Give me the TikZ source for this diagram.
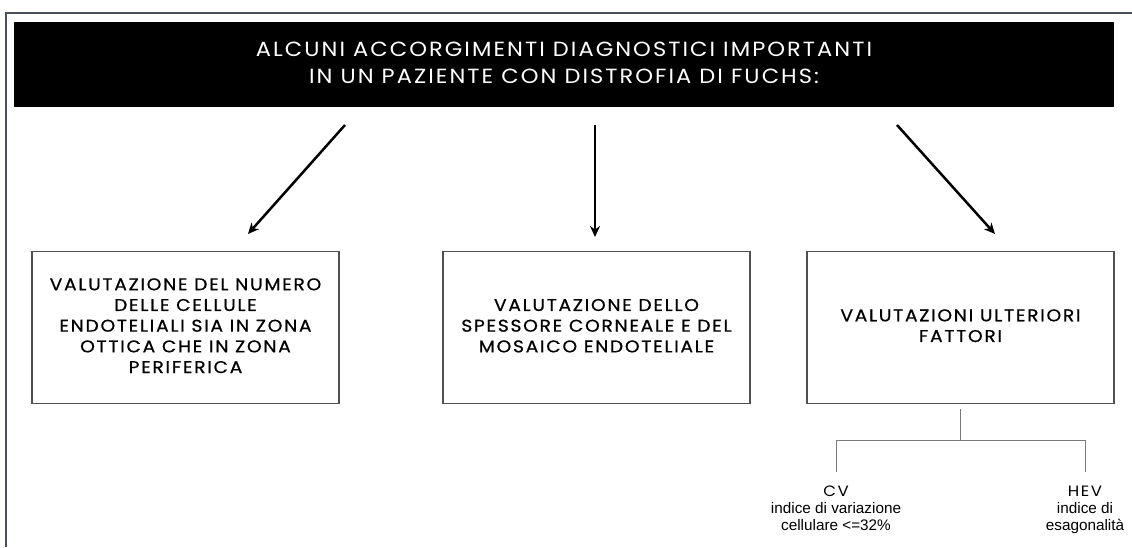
\documentclass[tikz,border=0pt]{standalone}
\usepackage{fontspec}
\usepackage{tikz}
\usepackage{xcolor}
\usetikzlibrary{shapes,arrows.meta}
\newfontfamily\headfont{Poppins}[FakeStretch=1.1, LetterSpace=10]
\newfontfamily\boxfont{Poppins}[FakeStretch=1.1, LetterSpace=10, FakeBold=0.7]
\newfontfamily\notefont{Liberation Sans}
\definecolor{framegray}{HTML}{4A5057}
\definecolor{boxgray}{HTML}{505050}
\definecolor{branchgray}{HTML}{7A7A7A}

\begin{document}
\begin{tikzpicture}[x=1pt,y=-1pt]
\tikzstyle{header} = [rectangle, fill=black, text=white, minimum width=1100pt, minimum height=85pt, inner sep=0pt]
\tikzstyle{esame} = [rectangle, draw=boxgray, line width=1.2pt, minimum width=307pt, minimum height=152pt, inner sep=0pt]
\tikzstyle{freccia} = [line width=2.5pt, -{Stealth[length=11pt,width=10pt]}]
\tikzstyle{ramo} = [draw=branchgray, line width=1pt]
\tikzstyle{indice} = [anchor=north, inner xsep=0pt, inner ysep=12pt]
\useasboundingbox (0,0) rectangle (1132,547);
% cornice
\draw[framegray, line width=2.5pt] (1132,13) -- (6,13) -- (6,547);
% titolo
\node[header] (titolo) at (564,64.5) {
	\headfont\fontsize{20.5}{26.5}\selectfont
	\begin{tabular}{c}
		ALCUNI ACCORGIMENTI DIAGNOSTICI IMPORTANTI \\
		IN UN PAZIENTE CON DISTROFIA DI FUCHS:
	\end{tabular}
};
% riquadri
\node[esame] (numero) at (185.5,327.5) {
	\boxfont\fontsize{17}{20.7}\selectfont
	\begin{tabular}{c}
		VALUTAZIONE DEL NUMERO \\
		DELLE CELLULE \\
		ENDOTELIALI SIA IN ZONA \\
		OTTICA CHE IN ZONA \\
		PERIFERICA
	\end{tabular}
};
\node[esame] (spessore) at (596.5,327.5) {
	\boxfont\fontsize{17}{20.7}\selectfont
	\begin{tabular}{c}
		VALUTAZIONE DELLO \\
		SPESSORE CORNEALE E DEL \\
		MOSAICO ENDOTELIALE
	\end{tabular}
};
\node[esame] (fattori) at (960.5,327.5) {
	\boxfont\fontsize{17}{20.7}\selectfont
	\begin{tabular}{c}
		VALUTAZIONI ULTERIORI \\
		FATTORI
	\end{tabular}
};
% frecce
\coordinate (p1) at (345,125);
\coordinate (q1) at (248,234);
\coordinate (p2) at (595,125);
\coordinate (q2) at (595,237);
\coordinate (p3) at (897,125);
\coordinate (q3) at (995,234);
\draw[freccia] (p1) -- (q1);
\draw[freccia] (p2) -- (q2);
\draw[freccia] (p3) -- (q3);
% indici
\node[indice] (cv) at (836,472) {
	\notefont\fontsize{15.3}{17}\selectfont
	\begin{tabular}{c}
		{\headfont\fontsize{15}{17}\selectfont CV} \\
		indice di variazione \\
		cellulare <=32\%
	\end{tabular}
};
\node[indice] (hev) at (1085,472) {
	\notefont\fontsize{15.3}{17}\selectfont
	\begin{tabular}{c}
		{\headfont\fontsize{15}{17}\selectfont HEV} \\
		indice di \\
		esagonalità
	\end{tabular}
};
\coordinate (nodo) at (960.5,440);
\draw[ramo] ([yshift=-5pt]fattori.south) -- (nodo);
\draw[ramo] (cv.north |- nodo) -- (hev.north |- nodo);
\draw[ramo] (cv.north |- nodo) -- (cv.north);
\draw[ramo] (hev.north |- nodo) -- (hev.north);
\end{tikzpicture}
\end{document}
